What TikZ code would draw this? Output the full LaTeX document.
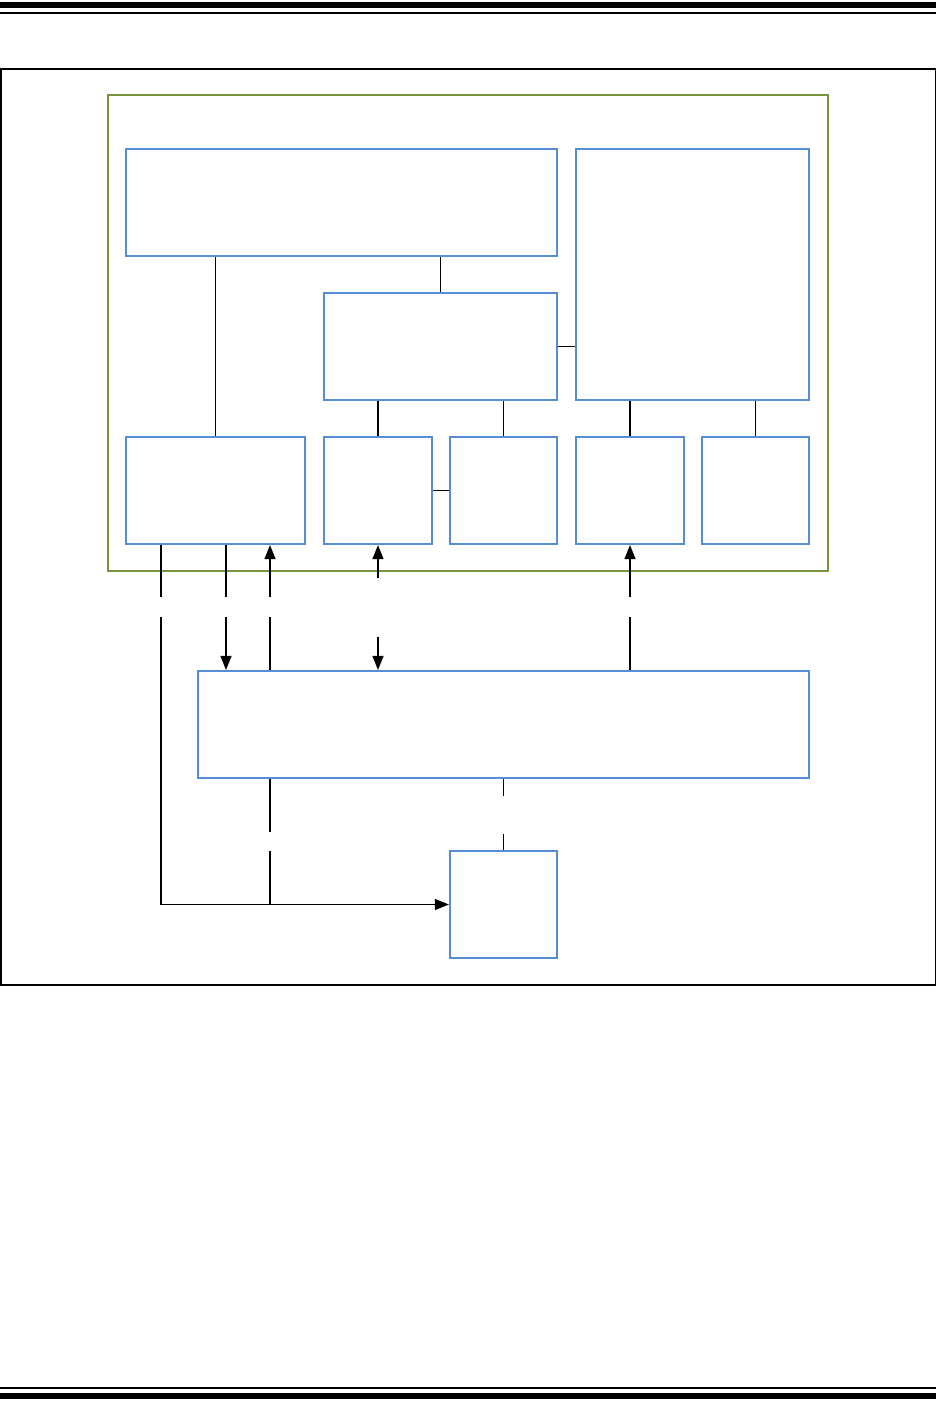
\documentclass[tikz,border=0pt]{standalone}
\usetikzlibrary{arrows.meta}
\definecolor{boxblue}{RGB}{85,142,213}
\definecolor{coregreen}{RGB}{119,147,60}

\begin{document}
\begin{tikzpicture}[x=1pt,y=-1pt,line width=1.3pt,
  blk/.style={draw=boxblue,line width=2.2pt,inner sep=0pt,minimum height=107pt},
  arr/.style={-{Triangle[length=14pt,width=11pt]}}]
\path[use as bounding box] (0,0) rectangle (936,1415);
% page rules
\fill (0,1.7) rectangle (936,7.7);
\fill (0,12) rectangle (936,13.7);
\fill (0,1387) rectangle (936,1388.7);
\fill (0,1393) rectangle (936,1399);
\draw[line width=1.5pt] (0.75,69) rectangle (935.25,985);
% core region
\node[draw=coregreen,line width=2pt,inner sep=0pt,minimum width=720pt,minimum height=476pt] (core) at (468,333) {};
\node[blk,minimum width=431pt] (top) at (341.5,202.5) {};
\node[blk,minimum width=233pt,minimum height=251pt] (right) at (692.5,274.5) {};
\node[blk,minimum width=233pt] (mid) at (440.5,346.5) {};
\node[blk,minimum width=179pt] (a) at (215.5,490.5) {};
\node[blk,minimum width=108pt] (b) at (378,490.5) {};
\node[blk,minimum width=107pt] (c) at (503.5,490.5) {};
\node[blk,minimum width=108pt] (d) at (630,490.5) {};
\node[blk,minimum width=107pt] (e) at (755.5,490.5) {};
% outside
\node[blk,minimum width=611pt] (wide) at (503.5,724.5) {};
\node[blk,minimum width=107pt] (sm) at (503.5,904.5) {};
% lanes and label gaps
\coordinate (l1) at (161,0);
\coordinate (l2) at (226,0);
\coordinate (l3) at (270,0);
\coordinate (g1) at (0,597);
\coordinate (g2) at (0,617);
\coordinate (h1) at (0,578);
\coordinate (h2) at (0,637);
\coordinate (k1) at (0,832);
\coordinate (k2) at (0,851);
\coordinate (m1) at (0,796);
\coordinate (m2) at (0,834);
% inner links
\draw (top.south -| a.north) -- (a.north);
\draw (top.south -| mid.north) -- (mid.north);
\draw (mid.east) -- (mid.east -| right.west);
\draw (mid.south -| b.north) -- (b.north);
\draw (mid.south -| c.north) -- (c.north);
\draw (b.east) -- (c.west);
\draw (right.south -| d.north) -- (d.north);
\draw (right.south -| e.north) -- (e.north);
% signals
\draw (a.south -| l1) -- (g1 -| l1);
\draw[arr] (g2 -| l1) |- (sm.west);
\draw (a.south -| l2) -- (g1 -| l2);
\draw[arr] (g2 -| l2) -- (wide.north -| l2);
\draw[arr] (g1 -| l3) -- (a.south -| l3);
\draw (wide.north -| l3) -- (g2 -| l3);
\draw[arr] (h1 -| b.south) -- (b.south);
\draw[arr] (h2 -| b.south) -- (wide.north -| b.south);
\draw[arr] (g1 -| d.south) -- (d.south);
\draw (wide.north -| d.south) -- (g2 -| d.south);
\draw (wide.south -| l3) -- (k1 -| l3);
\draw (k2 -| l3) -- (sm.west -| l3);
\draw (wide.south) -- (m1 -| wide.south);
\draw (m2 -| sm.north) -- (sm.north);
\end{tikzpicture}
\end{document}
